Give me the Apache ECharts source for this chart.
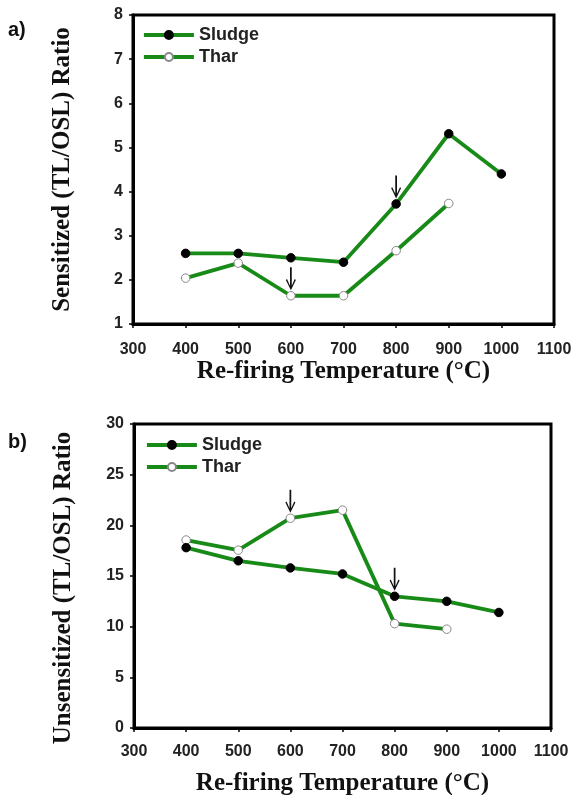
<!DOCTYPE html>
<html>
<head>
<meta charset="utf-8">
<script src="https://cdn.jsdelivr.net/npm/echarts@6/dist/echarts.min.js"></script>
<style>
html,body{margin:0;padding:0;background:#fff;}
#chart{width:574px;height:795px;}
</style>
</head>
<body>
<div id="chart"></div>
<script>
// ---- data ----
var tempsSludge = [400, 500, 600, 700, 800, 900, 1000];
var tempsThar = [400, 500, 600, 700, 800, 900];
var sludgeSensitized = [2.6, 2.6, 2.5, 2.4, 3.72, 5.31, 4.4];
var tharSensitized = [2.04, 2.38, 1.64, 1.64, 2.66, 3.73];
var sludgeUnsensitized = [17.8, 16.5, 15.8, 15.2, 13.0, 12.5, 11.4];
var tharUnsensitized = [18.55, 17.55, 20.7, 21.5, 10.3, 9.75];
var xTicks = [300, 400, 500, 600, 700, 800, 900, 1000, 1100];
var arrowsA = {Sludge: [800], Thar: [600]};
var arrowsB = {Sludge: [800], Thar: [600]};
var seriesNames = ['Sludge', 'Thar'];
var panelLabels = ['a)', 'b)'];
var xTitle = 'Re-firing Temperature (\u00B0C)';
var yTitles = ['Sensitized (TL/OSL) Ratio', 'Unsensitized (TL/OSL) Ratio'];

function pairs(xs, ys) { return xs.map(function (x, i) { return [x, ys[i]]; }); }
function arrowMarks(xs, ys, arrowXs) {
  return arrowXs.map(function (ax) { return { coord: [ax, ys[xs.indexOf(ax)]] }; });
}

var GREEN = '#188a18';
var ARROW = 'path://M4.1,0 L5.9,0 L5.9,16 L9,10.3 L10.2,11 L5,20 L-0.2,11 L1,10.3 L4.1,16 Z';

function mkSeries(name, xs, ys, gi, arrowXs) {
  var filled = name === 'Sludge';
  return {
    name: name, type: 'line', xAxisIndex: gi, yAxisIndex: gi,
    data: pairs(xs, ys),
    symbol: 'circle', symbolSize: 8.5, showSymbol: true,
    lineStyle: { color: GREEN, width: 3.8 },
    itemStyle: filled ? { color: '#000', borderColor: '#000', borderWidth: 1 }
                      : { color: '#fff', borderColor: '#888', borderWidth: 1 },
    z: filled ? 3 : 2,
    markPoint: {
      symbol: ARROW, symbolSize: [10, 23], symbolOffset: [0, -17],
      itemStyle: { color: '#111' }, label: { show: false },
      data: arrowMarks(xs, ys, arrowXs)
    },
    animation: false
  };
}

var tickFont = { fontFamily: 'Liberation Sans, Arial', fontWeight: 'bold', fontSize: 16, color: '#222' };
var titleFont = { fontFamily: 'Liberation Serif, Times New Roman', fontWeight: 'bold', fontSize: 25, color: '#111' };

function xAx(gi, margin, gap) {
  return {
    type: 'value', gridIndex: gi, min: xTicks[0], max: xTicks[xTicks.length - 1], interval: 100,
    axisLine: { show: true, lineStyle: { color: '#000', width: 3 } },
    axisTick: { show: true, length: 4, lineStyle: { color: '#000', width: 1.5 } },
    axisLabel: Object.assign({ margin: margin, formatter: function (v) { return String(v); } }, tickFont),
    splitLine: { show: false },
    name: xTitle, nameLocation: 'middle', nameGap: gap, nameTextStyle: titleFont
  };
}
function yAx(gi, min, max, interval, gap, pad) {
  return {
    type: 'value', gridIndex: gi, min: min, max: max, interval: interval,
    axisLine: { show: true, lineStyle: { color: '#000', width: 3 } },
    axisTick: { show: true, length: 4, lineStyle: { color: '#000', width: 1.5 } },
    axisLabel: Object.assign({ margin: 10 }, tickFont),
    splitLine: { show: false },
    name: yTitles[gi], nameLocation: 'middle', nameGap: gap, nameRotate: 90,
    nameTextStyle: Object.assign({ padding: pad }, titleFont)
  };
}

var legendText = { fontFamily: 'Liberation Sans, Arial', fontWeight: 'bold', fontSize: 18, color: '#222' };

var option = {
  backgroundColor: '#fff',
  animation: false,
  grid: [
    { left: 133, top: 15, width: 421, height: 309, show: true, borderColor: '#000', borderWidth: 3, backgroundColor: 'transparent', outerBoundsMode: 'none', containLabel: false },
    { left: 134, top: 424, width: 417, height: 304, show: true, borderColor: '#000', borderWidth: 3, backgroundColor: 'transparent', outerBoundsMode: 'none', containLabel: false }
  ],
  legend: [
    { data: seriesNames, left: 137, top: 21, orient: 'vertical', itemWidth: 50, itemHeight: 10, itemGap: 4, textStyle: legendText, selectedMode: false, lineStyle: { width: 3.8 } },
    { data: seriesNames, left: 140, top: 431, orient: 'vertical', itemWidth: 50, itemHeight: 10, itemGap: 4, textStyle: legendText, selectedMode: false, lineStyle: { width: 3.8 } }
  ],
  xAxis: [xAx(0, 18, 34), xAx(1, 16, 43)],
  yAxis: [yAx(0, 1, 8, 1, 58, [0, 0, 0, 0]), yAx(1, 0, 30, 5, 58, [0, 24, 0, 0])],
  series: [
    mkSeries('Sludge', tempsSludge, sludgeSensitized, 0, arrowsA.Sludge),
    mkSeries('Thar', tempsThar, tharSensitized, 0, arrowsA.Thar),
    mkSeries('Sludge', tempsSludge, sludgeUnsensitized, 1, arrowsB.Sludge),
    mkSeries('Thar', tempsThar, tharUnsensitized, 1, arrowsB.Thar)
  ],
  graphic: [
    { type: 'text', left: 8, top: 20, style: { text: panelLabels[0], font: 'bold 20px Liberation Sans, Arial', fill: '#111' } },
    { type: 'text', left: 8, top: 432, style: { text: panelLabels[1], font: 'bold 20px Liberation Sans, Arial', fill: '#111' } }
  ]
};

var chart = echarts.init(document.getElementById('chart'), null, { renderer: 'canvas' });
chart.setOption(option);
</script>
</body>
</html>
